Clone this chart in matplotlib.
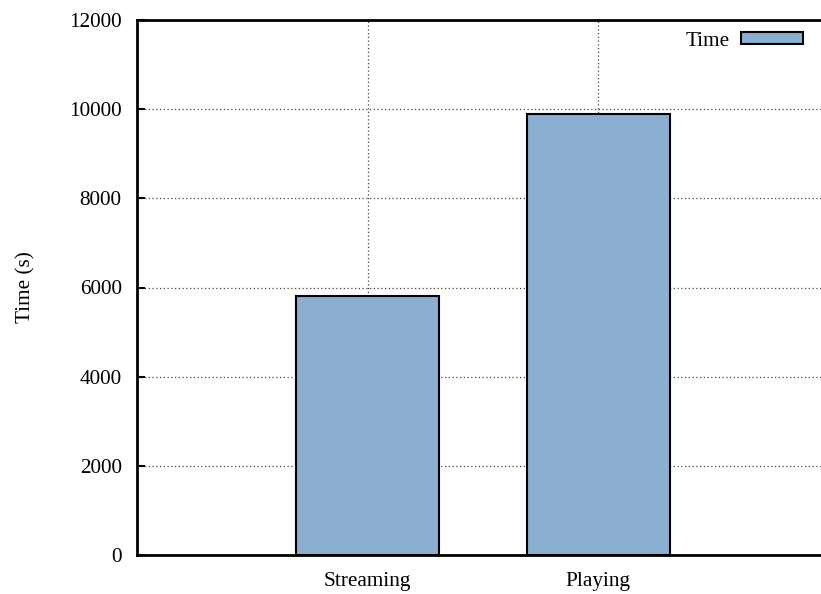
import matplotlib
matplotlib.use("Agg")
import matplotlib.pyplot as plt
from matplotlib.patches import Patch

# данные
categories = ["Streaming", "Playing"]
times = [5800, 9900]
series_name = "Time"

plt.rcParams["font.family"] = ["Liberation Serif", "DejaVu Serif"]
plt.rcParams["font.size"] = 15.3

fig = plt.figure(figsize=(8.21, 5.94), dpi=100)
# правая граница осей уходит чуть за край картинки, как в оригинале
ax_w = 692
ax = fig.add_axes([137 / 821, 39 / 594, ax_w / 821, 535 / 594])

x = [i + 1 for i in range(len(categories))]
bar_color = "#8caed0"
ax.bar(x, times, width=0.62, color=bar_color, edgecolor="black",
       linewidth=1.5, zorder=3)

ax.set_xlim(0, len(categories) + 1)
ax.set_ylim(0, 12000)
ax.set_yticks(range(0, 12001, 2000))
ax.set_xticks(x)
ax.set_xticklabels(categories)

ax.grid(True, linestyle=(0, (1, 2)), color="#444444", linewidth=0.9, zorder=0)
ax.set_axisbelow(True)

for side in ("left", "bottom", "top", "right"):
    ax.spines[side].set_linewidth(2)
ax.tick_params(axis="y", direction="in", length=6, width=1.5, pad=11)
ax.tick_params(axis="x", direction="in", length=0, pad=12)

ax.set_ylabel("Time (s)")
ax.yaxis.set_label_coords((35 - 137) / ax_w, 0.5)

handle = Patch(facecolor=bar_color, edgecolor="black", linewidth=1.5)
ax.legend([handle], [series_name], loc="upper right", frameon=False,
          markerfirst=False, handlelength=2.9, handleheight=0.5,
          handletextpad=0.55, borderaxespad=0.0,
          bbox_to_anchor=((811 - 137) / ax_w, 1.0 - 3 / 535))

fig.savefig("out.png", dpi=100)
